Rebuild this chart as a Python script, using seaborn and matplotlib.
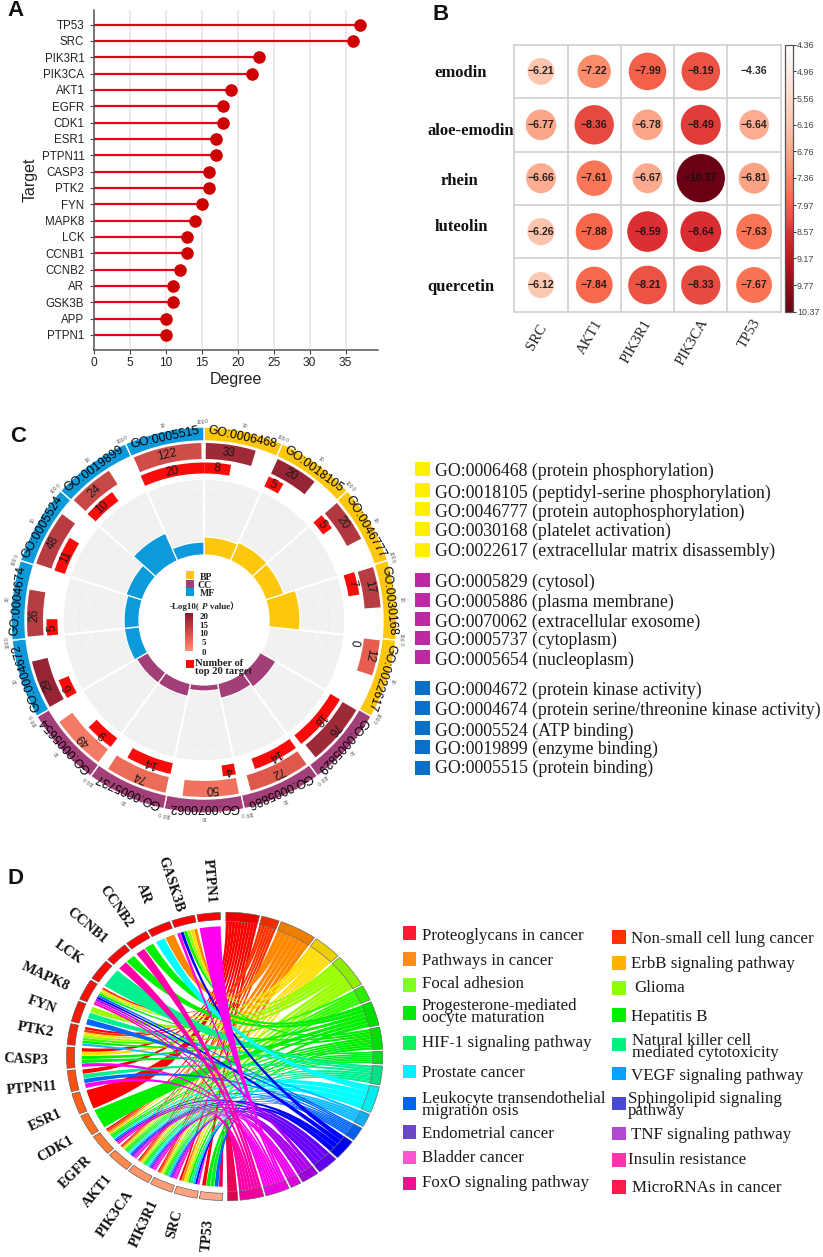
import numpy as np
import pandas as pd
import matplotlib
matplotlib.use('Agg')
import matplotlib.pyplot as plt
from matplotlib.path import Path
from matplotlib.patches import PathPatch, Rectangle
from matplotlib.cm import ScalarMappable
from matplotlib.colors import Normalize, LinearSegmentedColormap
import seaborn as sns

W, H = 823, 1257

# panel A
targets_a = ['TP53', 'SRC', 'PIK3R1', 'PIK3CA', 'AKT1', 'EGFR', 'CDK1', 'ESR1', 'PTPN11', 'CASP3',
             'PTK2', 'FYN', 'MAPK8', 'LCK', 'CCNB1', 'CCNB2', 'AR', 'GSK3B', 'APP', 'PTPN1']
degree = [37, 36, 23, 22, 19, 18, 18, 17, 17, 16, 16, 15, 14, 13, 13, 12, 11, 11, 10, 10]

# panel B
compounds = ['emodin', 'aloe-emodin', 'rhein', 'luteolin', 'quercetin']
proteins = ['SRC', 'AKT1', 'PIK3R1', 'PIK3CA', 'TP53']
scores = [[-6.21, -7.22, -7.99, -8.19, -4.36],
          [-6.77, -8.36, -6.78, -8.49, -6.64],
          [-6.66, -7.61, -6.67, -10.37, -6.81],
          [-6.26, -7.88, -8.59, -8.64, -7.63],
          [-6.12, -7.84, -8.21, -8.33, -7.67]]
cbar_ticks = [4.36, 4.96, 5.56, 6.16, 6.76, 7.36, 7.97, 8.57, 9.17, 9.77, 10.37]

# panel C
go_terms = ['GO:0006468', 'GO:0018105', 'GO:0046777', 'GO:0030168', 'GO:0022617',
            'GO:0005829', 'GO:0005886', 'GO:0070062', 'GO:0005737', 'GO:0005654',
            'GO:0004672', 'GO:0004674', 'GO:0005524', 'GO:0019899', 'GO:0005515']
go_names = ['protein phosphorylation', 'peptidyl-serine phosphorylation', 'protein autophosphorylation',
            'platelet activation', 'extracellular matrix disassembly',
            'cytosol', 'plasma membrane', 'extracellular exosome', 'cytoplasm', 'nucleoplasm',
            'protein kinase activity', 'protein serine/threonine kinase activity', 'ATP binding',
            'enzyme binding', 'protein binding']
go_group = ['BP'] * 5 + ['CC'] * 5 + ['MF'] * 5
go_total = [33, 20, 20, 17, 12, 76, 72, 50, 74, 49, 29, 26, 48, 24, 122]
go_hits = [8, 5, 5, 7, 0, 18, 14, 4, 14, 9, 6, 5, 11, 10, 20]
go_inner = [18, 20, 19, 31, 1, 18, 15, 6, 13, 13, 15, 15, 17, 30, 13]
go_logp = [17, 18, 14, 13, 7, 17, 8, 4, 5, 3, 18, 13, 13, 11, 10]

# panel D
targets_d = ['TP53', 'SRC', 'PIK3R1', 'PIK3CA', 'AKT1', 'EGFR', 'CDK1', 'ESR1', 'PTPN11', 'CASP3',
             'PTK2', 'FYN', 'MAPK8', 'LCK', 'CCNB1', 'CCNB2', 'AR', 'GASK3B', 'PTPN1']
pathways = ['Proteoglycans in cancer', 'Non-small cell lung cancer', 'Pathways in cancer',
            'ErbB signaling pathway', 'Focal adhesion', 'Glioma',
            'Progesterone-mediated\noocyte maturation', 'Hepatitis B', 'HIF-1 signaling pathway',
            'Natural killer cell\nmediated cytotoxicity', 'Prostate cancer', 'VEGF signaling pathway',
            'Leukocyte transendothelial\nmigration osis', 'Sphingolipid signaling\npathway',
            'Endometrial cancer', 'TNF signaling pathway', 'Bladder cancer', 'Insulin resistance',
            'FoxO signaling pathway', 'MicroRNAs in cancer']
pathway_span = [13.2, 7.4, 14.4, 11.2, 14.1, 7.0, 10.5, 9.7, 5.9, 8.4,
                11.4, 6.2, 6.4, 9.1, 8.6, 7.3, 4.7, 9.7, 9.5, 4.6]
target_links = [[0, 7, 8, 12, 19],
                [0, 2, 3, 4, 6, 9, 11, 13, 17],
                [0, 1, 2, 3, 4, 5, 7, 8, 9, 11, 12, 14, 15, 16, 17, 18],
                [0, 1, 2, 3, 4, 5, 7, 8, 9, 10, 11, 12, 14, 15, 16, 17, 18],
                [0, 1, 2, 3, 4, 5, 6, 7, 8, 9, 10, 11, 12, 13, 14, 15, 16, 17, 18],
                [0, 1, 2, 3, 5, 7, 8, 10, 12, 14, 16, 18],
                [6],
                [0],
                [0, 9, 12, 17],
                [0, 3, 6, 8, 17],
                [0, 1, 3, 4, 5, 7, 11],
                [4, 9, 12],
                [1, 3, 4, 7, 12, 13, 15, 17, 18],
                [9],
                [6, 18],
                [6, 18],
                [2, 10],
                [2, 3, 4, 7, 13, 17],
                [17]]
pathway_colors = ['#ff0000', '#ff3300', '#ff8800', '#ffdd00', '#99ff00', '#33ff00', '#00f000', '#00ee00',
                  '#00ee22', '#00f090', '#00ffff', '#11bbff', '#0066ff', '#0000ff', '#6600ff', '#aa00ee',
                  '#ee00ee', '#ff00ee', '#ff00aa', '#ee0055']
legend_colors = {'Proteoglycans in cancer': '#ff1a33', 'Pathways in cancer': '#ff8c1a', 'Focal adhesion': '#7fff1a',
                 'Progesterone-mediated\noocyte maturation': '#06e80c', 'HIF-1 signaling pathway': '#12ef60',
                 'Prostate cancer': '#00f0ff', 'Leukocyte transendothelial\nmigration osis': '#0066e6',
                 'Endometrial cancer': '#6a48c9', 'Bladder cancer': '#ff55d0', 'FoxO signaling pathway': '#f0108f',
                 'Non-small cell lung cancer': '#ff3300', 'ErbB signaling pathway': '#ffb300', 'Glioma': '#8fff00',
                 'Hepatitis B': '#00ee00', 'Natural killer cell\nmediated cytotoxicity': '#00ef80',
                 'VEGF signaling pathway': '#00a2ff', 'Sphingolipid signaling\npathway': '#4a4ad0',
                 'TNF signaling pathway': '#b048d0', 'Insulin resistance': '#ff33aa', 'MicroRNAs in cancer': '#ff1a4d'}

sns.set_theme(style='ticks')
plt.rcParams['font.family'] = ['Liberation Sans', 'DejaVu Sans']
SERIF = 'Liberation Serif'

fig = plt.figure(figsize=(W / 100, H / 100), dpi=100)


def px_axes(left, top, right, bottom, **kw):
    return fig.add_axes([left / W, 1 - bottom / H, (right - left) / W, (bottom - top) / H], **kw)


def ptext(x, y, s, **kw):
    kw.setdefault('ha', 'center')
    kw.setdefault('va', 'center')
    return fig.text(x / W, 1 - y / H, s, **kw)


for letter, x, y in [('A', 16, 11), ('B', 441, 14), ('C', 18, 437), ('D', 16, 878)]:
    ptext(x, y, letter, fontsize=16, fontweight='bold', color='#111111')

# A: lollipop
ax = px_axes(94, 10, 378, 350)
df_a = pd.DataFrame({'target': targets_a, 'degree': degree})
ax.hlines(df_a['target'], 0, df_a['degree'], color='#e2001a', lw=1.6, zorder=2)
sns.scatterplot(data=df_a, x='degree', y='target', color='#cc0000', s=82, linewidth=0, ax=ax, zorder=3, clip_on=False)
ax.set_xlim(0, 39.5)
ax.set_ylim(19.92, -0.89)
ax.set_xticks(range(0, 36, 5))
ax.grid(axis='x', color='#e6e6e6', lw=1.1)
ax.set_axisbelow(True)
sns.despine(ax=ax)
for side in ['left', 'bottom']:
    ax.spines[side].set_color('#555555')
    ax.spines[side].set_linewidth(1.1)
ax.tick_params(axis='both', length=3, width=0.8, color='#444444', labelcolor='#222222', pad=2)
ax.tick_params(axis='y', labelsize=8.3, pad=4)
ax.tick_params(axis='x', labelsize=8.6)
ax.set_xlabel('Degree', fontsize=11.5, color='#222222', labelpad=2)
ax.set_ylabel('Target', fontsize=11.5, color='#222222', labelpad=3)

# B: docking score grid
ax = px_axes(514.3, 44.7, 780.7, 311.7)
df_b = pd.DataFrame(scores, columns=proteins, index=compounds)
df_b = df_b.reset_index().melt(id_vars='index', var_name='protein', value_name='score')
df_b['col'] = df_b['protein'].map(proteins.index)
df_b['row'] = df_b['index'].map(compounds.index)
score_cmap = LinearSegmentedColormap.from_list('score', [(0, '#ffffff'), (0.31, '#fdc4ad'), (0.476, '#fb8c6b'),
                                                         (0.58, '#f9694c'), (0.665, '#e64a40'), (0.705, '#db2f35'),
                                                         (0.8, '#c4161c'), (1, '#6b0014')])
sns.scatterplot(data=df_b, x='col', y='row', hue='score', size='score', palette=score_cmap.reversed(),
                hue_norm=(-10.37, -4.36), size_norm=(-10.37, -4.36), sizes=(1209, 0),
                linewidth=0, legend=False, ax=ax, zorder=3)
for _, row in df_b.iterrows():
    ax.text(row['col'], row['row'], '\u2212%.2f' % abs(row['score']), ha='center', va='center',
            fontsize=7.6, fontweight='bold', color='#111111', zorder=4, alpha=0.9)
ax.set_xlim(-0.5, 4.5)
ax.set_ylim(4.5, -0.5)
ax.set_xticks(np.arange(0.5, 4.5))
ax.set_yticks(np.arange(0.5, 4.5))
ax.grid(color='#cfcfcf', lw=1.2)
ax.set_axisbelow(True)
ax.tick_params(length=0, labelbottom=False, labelleft=False)
ax.set_xlabel('')
ax.set_ylabel('')
for s in ax.spines.values():
    s.set_color('#cfcfcf')
    s.set_linewidth(1.2)
for name, x, y in zip(compounds, [41, 51, 39, 41, 41], [72.7, 131, 181, 227, 287]):
    ptext(x + 420, y, name, family=SERIF, fontweight='bold', fontsize=12, color='#111111')
for name, x, y in zip(proteins, [117, 170, 217, 272, 330], [337, 337, 342, 342, 334]):
    ptext(x + 420, y, name, family=SERIF, fontsize=10.5, rotation=60, color='#222222', rotation_mode='anchor')

cax = px_axes(784.7, 44.7, 792.7, 311.7)
cb = fig.colorbar(ScalarMappable(Normalize(4.36, 10.37), cmap=score_cmap), cax=cax)
cax.invert_yaxis()
cb.set_ticks(cbar_ticks)
cb.set_ticklabels(['%.2f' % t for t in cbar_ticks])
cax.tick_params(labelsize=6.4, length=2, width=0.7, pad=1, labelcolor='#444444', color='#333333')
cb.outline.set_edgecolor('#555555')
cb.outline.set_linewidth(0.9)

# C: GO circle
group_color = {'BP': '#fdc70c', 'CC': '#a23f78', 'MF': '#0d9adb'}
SECT = 2 * np.pi / len(go_terms)
axc = px_axes(204 - 196, 620 - 196, 204 + 196, 620 + 196, projection='polar')
axc.set_theta_zero_location('N')
axc.set_theta_direction(-1)
axc.set_ylim(0, 196)
axc.axis('off')
theta = np.arange(len(go_terms)) * SECT
ring_colors = [group_color[g] for g in go_group]
axc.bar(theta, 141 - 65, width=SECT, bottom=65, align='edge', color='#f1f1f1', edgecolor='white', lw=1.3)
for r in [80, 95, 110, 125]:
    axc.plot(np.linspace(0, 2 * np.pi, 200), [r] * 200, color='#ececec', lw=0.5, zorder=1)
for t in theta:
    axc.plot([t, t], [65, 141], color='white', lw=1.3, zorder=1.5)
axc.bar(theta, go_inner, width=SECT, bottom=65, align='edge', color=ring_colors, edgecolor='white', lw=0.9, zorder=2)
axc.bar(theta, 14, width=SECT, bottom=179, align='edge', color=ring_colors, edgecolor='white', lw=1, zorder=2)

logp_cmap = sns.blend_palette(['#fb9077', '#e8604f', '#b53b42', '#8b1a2e'], as_cmap=True)
logp_norm = Normalize(0, 20)
dark_span = np.radians(10.8) * np.log10(go_total)
axc.bar(theta + np.radians(0.6), 16, width=dark_span, bottom=161, align='edge',
        color=[logp_cmap(logp_norm(v)) for v in go_logp], lw=0, zorder=2)
red_span = SECT * np.array(go_hits) / 20
axc.bar(theta + np.radians(0.3), 11, width=red_span, bottom=146.5, align='edge', color='#fb0a0a', lw=0, zorder=2)
for i, term in enumerate(go_terms):
    mid = theta[i] + SECT / 2
    axc.text(mid, 186.5, term, rotation=-np.degrees(mid), rotation_mode='anchor', ha='center', va='center',
             fontsize=8.8, color='#000000', zorder=3, clip_on=False)
    t_mid = theta[i] + dark_span[i] / 2
    axc.text(t_mid, 169, str(go_total[i]), rotation=-np.degrees(t_mid), rotation_mode='anchor', ha='center',
             va='center', fontsize=8.6, color='#1a1a1a', zorder=3)
    t_mid = theta[i] + max(red_span[i], np.radians(5)) / 2
    axc.text(t_mid, 152, str(go_hits[i]), rotation=-np.degrees(t_mid), rotation_mode='anchor', ha='center',
             va='center', fontsize=8.6, color='#1a1a1a', zorder=3)
    for frac, lab in [(0.03, '0'), (0.5, '10'), (0.96, '100')]:
        t_lab = theta[i] + SECT * frac
        axc.text(t_lab, 198, lab, rotation=-np.degrees(t_lab), rotation_mode='anchor', ha='center', va='center',
                 fontsize=3.6, color='#555555', clip_on=False)

# C centre legend
for y0, col, lab, lx in [(571, '#fdc70c', 'BP', 206), (580, '#a23f78', 'CC', 205), (588, '#0d9adb', 'MF', 207)]:
    fig.add_artist(Rectangle((186 / W, 1 - (y0 + 8) / H), 8 / W, 8 / H, transform=fig.transFigure, color=col, lw=0, zorder=5))
    ptext(lx, y0 + 6, lab, family=SERIF, fontweight='bold', fontsize=7, color='#222222', zorder=6)
ptext(169.5, 607, '-Log10(', ha='left', family=SERIF, fontweight='bold', fontsize=6.4, color='#222222', zorder=6)
ptext(202.5, 607, 'P', ha='left', family=SERIF, fontweight='bold', style='italic', fontsize=6.4, color='#222222', zorder=6)
ptext(210, 607, 'value\uff09', ha='left', family=[SERIF, 'Noto Sans CJK SC'], fontweight='bold', fontsize=6.4,
      color='#222222', zorder=6)
cax2 = px_axes(185, 613, 193, 651)
cax2.imshow(np.linspace(20, 0, 60).reshape(-1, 1), cmap=logp_cmap, norm=logp_norm, aspect='auto')
cax2.axis('off')
for v, y in zip([20, 15, 10, 5, 0], [617, 626, 634.5, 643, 653]):
    ptext(204, y, str(v), family=SERIF, fontweight='bold', fontsize=6.4, color='#222222', zorder=6)
fig.add_artist(Rectangle((186 / W, 1 - 668 / H), 8 / W, 8 / H, transform=fig.transFigure, color='#fb0a0a', lw=0, zorder=5))
ptext(195, 663, 'Number of', ha='left', family=SERIF, fontweight='bold', fontsize=7.6, color='#222222', zorder=6)
ptext(195, 672, 'top 20 target', ha='left', family=SERIF, fontweight='bold', fontsize=7.6, color='#222222', zorder=6)

# C right legend
go_square_y = [469.5, 490.5, 509.5, 528.5, 550, 579.5, 600, 618.5, 638, 657, 687.5, 707.5, 728, 747, 767.5]
go_text_y = [471.5, 493, 512, 531, 551.5, 582, 602, 622, 640.5, 660.5, 690, 710, 731.5, 749.5, 768.5]
go_legend_color = {'BP': '#fff000', 'CC': '#bd28a5', 'MF': '#0a6fc8'}
for term, name, grp, sy, ty in zip(go_terms, go_names, go_group, go_square_y, go_text_y):
    fig.add_artist(Rectangle((415 / W, 1 - (sy + 7) / H), 14.5 / W, 14 / H, transform=fig.transFigure,
                             color=go_legend_color[grp], lw=0))
    ptext(434.5, ty, '%s (%s)' % (term, name), ha='left', family=SERIF, fontsize=12.8, color='#1a1a1a')

# D: chord diagram, unit circle stretched by the axes box
axd = px_axes(224.5 - 158.7, 1056.5 - 144.7, 224.5 + 158.7, 1056.5 + 144.7)
axd.set_xlim(-1, 1)
axd.set_ylim(-1, 1)
axd.axis('off')


def pol(t, r):
    a = np.radians(t)
    return r * np.sin(a), r * np.cos(a)


def band(ax, t0, t1, r0, r1, **kw):
    tt = np.linspace(t0, t1, 30)
    x0, y0 = pol(tt, r0)
    x1, y1 = pol(tt[::-1], r1)
    ax.fill(np.r_[x0, x1], np.r_[y0, y1], **kw)


def ribbon(ax, t1, t2, t3, t4, r0, r1, color, kl=0.1, kr=0.55):
    verts = [pol(t, r0) for t in np.linspace(t1, t2, 12)]
    codes = [Path.MOVETO] + [Path.LINETO] * 11
    verts += [pol(t2, r0 * kl), pol(t3, r1 * kr), pol(t3, r1)]
    codes += [Path.CURVE4] * 3
    verts += [pol(t, r1) for t in np.linspace(t3, t4, 12)[1:]]
    codes += [Path.LINETO] * 11
    verts += [pol(t4, r1 * kr), pol(t1, r0 * kl), pol(t1, r0)]
    codes += [Path.CURVE4] * 3
    ax.add_patch(PathPatch(Path(verts, codes), facecolor=color, edgecolor='none', lw=0))


# ring position of pathways and targets
path_edges = np.r_[0.1, np.cumsum(pathway_span)]
n_t = len(targets_d)
target_step = (358.9 - 180.2) / n_t
target_edges = 180.2 + target_step * np.arange(n_t + 1)

# slots per pathway: higher targets first going clockwise
path_slots = {j: [i for i in range(n_t - 1, -1, -1) if j in target_links[i]] for j in range(len(pathways))}

for i in range(n_t):
    links = sorted(target_links[i], reverse=True)
    t0, t1 = target_edges[i] + 0.45, target_edges[i + 1] - 0.45
    w = (t1 - t0) / len(links)
    for k, j in enumerate(links):
        a0 = t0 + k * w + (0.05 * w if len(links) > 1 else 0)
        a1 = t0 + (k + 1) * w - (0.05 * w if len(links) > 1 else 0)
        slots = path_slots[j]
        p0, p1 = path_edges[j] + 0.4, path_edges[j + 1] - 0.4
        pw = (p1 - p0) / len(slots)
        pos = slots.index(i)
        ribbon(axd, a0, a1, p0 + pos * pw, p0 + (pos + 1) * pw, 0.9, 0.935, pathway_colors[j])

for j in range(len(pathways)):
    c = np.array(matplotlib.colors.to_rgb(pathway_colors[j])) * 0.93
    band(axd, path_edges[j] + 0.4, path_edges[j + 1] - 0.4, 0.935, 0.998, facecolor=c, edgecolor='#666666', lw=0.45)

t_colors = sns.blend_palette(['#ffa98c', '#ff9a70', '#ff7a30', '#ff5510', '#f0200a', '#ff0a05', '#ff0000', '#ff0000'], n_t)
for i in range(n_t):
    band(axd, target_edges[i] + 0.45, target_edges[i + 1] - 0.45, 0.945, 0.995, facecolor=t_colors[i],
         edgecolor='#555555', lw=0.45)

# target labels
label_x = [208, 175, 144, 115, 97, 75, 55, 45, 32, 26, 35, 42, 45, 69, 87, 116, 144, 171, 209]
label_y = [1235, 1224, 1224, 1214, 1191, 1172, 1149, 1120, 1088, 1060, 1030, 1005, 977, 952, 926, 907, 894, 884, 881]
label_rot = [85, 75, 65, 55, 50, 45, 30, 25, 5, -3, -10, -20, -25, -35, -40, -55, -70, -72, -85]
for name, x, y, rot in zip(targets_d, label_x, label_y, label_rot):
    ptext(x, y, name, family=SERIF, fontweight='bold', fontsize=10.4, rotation=rot, rotation_mode='anchor', color='#111111')

# D right legend
col1 = [0, 2, 4, 6, 8, 10, 12, 14, 16, 18]
col2 = [1, 3, 5, 7, 9, 11, 13, 15, 17, 19]
col1_sq = [933, 959, 985, 1012.7, 1042.7, 1071.3, 1103.3, 1131.7, 1157.3, 1183.3]
col1_ty = [935.7, 960.7, 984, 1012, 1042.7, 1073.3, 1105, 1134, 1158.3, 1183.3]
col2_sq = [937.3, 963.3, 988.3, 1015, 1044.3, 1073.3, 1103.3, 1133.3, 1160, 1186.7]
col2_ty = [939.3, 964, 988.3, 1016.7, 1047, 1075.7, 1105, 1135, 1160, 1187.7]
col2_tx = [630.7, 631, 634.5, 630.7, 632, 631, 627.5, 631, 627.5, 632]
for idx, sy, ty in zip(col1, col1_sq, col1_ty):
    fig.add_artist(Rectangle((402.7 / W, 1 - (sy + 6.8) / H), 13.5 / W, 13.6 / H, transform=fig.transFigure,
                             color=legend_colors[pathways[idx]], lw=0))
    ptext(421.7, ty, pathways[idx], ha='left', family=SERIF, fontsize=12.2, linespacing=0.72, color='#1a1a1a')
for idx, sy, ty, tx in zip(col2, col2_sq, col2_ty, col2_tx):
    fig.add_artist(Rectangle((611.7 / W, 1 - (sy + 6.8) / H), 14 / W, 13.6 / H, transform=fig.transFigure,
                             color=legend_colors[pathways[idx]], lw=0))
    ptext(tx, ty, pathways[idx], ha='left', family=SERIF, fontsize=12.2, linespacing=0.72, color='#1a1a1a')

fig.savefig('out.png', dpi=100)
